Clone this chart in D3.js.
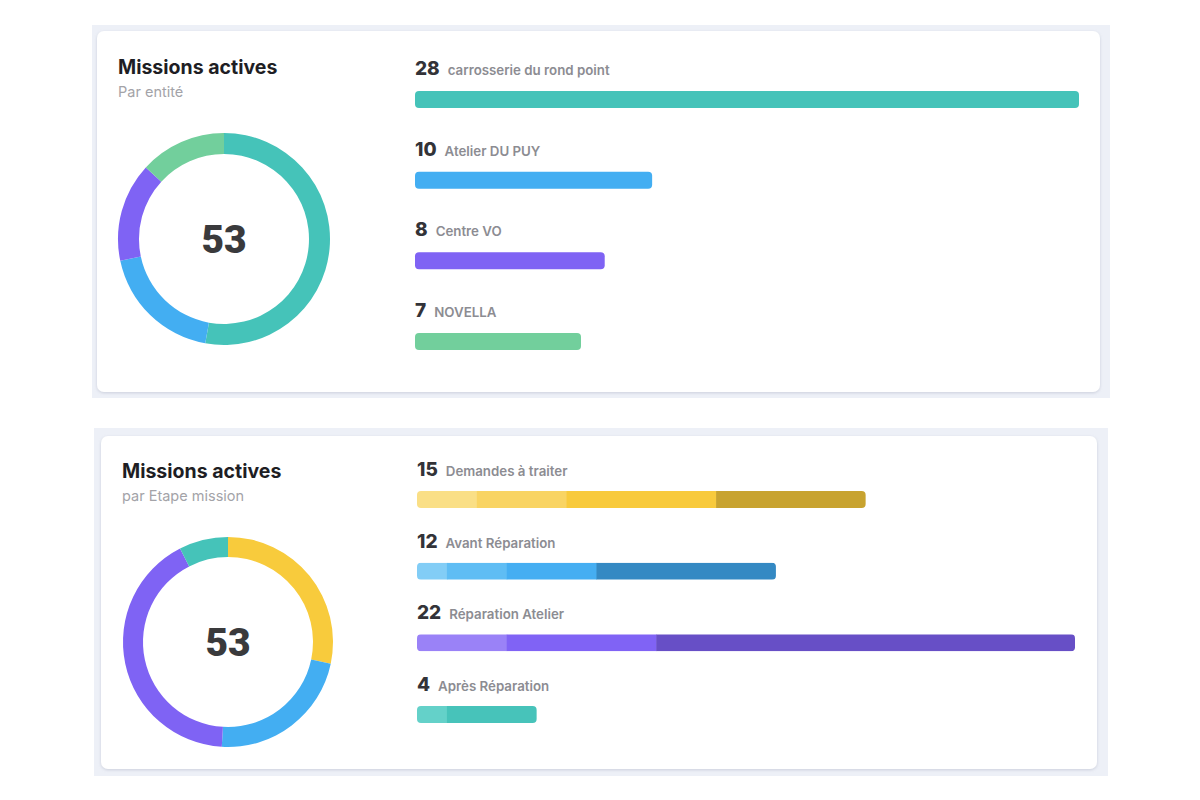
<!DOCTYPE html>
<html>
<head>
<meta charset="utf-8">
<script src="https://cdn.jsdelivr.net/npm/d3@7"></script>
<style>
  body { margin: 0; background: #fff; }
  svg { display: block; }
  .title { font-family: Inter, "Noto Sans", sans-serif; font-weight: 700; fill: #1e1e24; }
  .sub { font-family: Inter, "Noto Sans", sans-serif; fill: #a3a3a8; }
  .num { font-family: Inter, "Noto Sans", sans-serif; font-weight: 800; fill: #333338; }
  .lbl { font-family: Inter, "Noto Sans", sans-serif; font-weight: 600; fill: #8c8c92; }
  .total { font-family: Roboto, "Liberation Sans", sans-serif; font-weight: 900; fill: #3a3a3c; }
</style>
</head>
<body>
<div id="chart"></div>
<script>
// Missions actives par entité
const entityNames = ["carrosserie du rond point", "Atelier DU PUY", "Centre VO", "NOVELLA"];
const entityValues = [28, 10, 8, 7];

// Missions actives par étape mission (sous-parts empilées)
const stageNames = ["Demandes à traiter", "Avant Réparation", "Réparation Atelier", "Après Réparation"];
const stageParts = [
  [2, 3, 5, 5],
  [1, 2, 3, 6],
  [3, 5, 14],
  [1, 3]
];
const stageTotals = stageParts.map(p => d3.sum(p));

// colours
const entityColors = ["#45c3b9", "#43aef2", "#7f63f4", "#72cf9c"];
const stageColors = ["#f8cb3c", "#43aef2", "#7f63f4", "#45c3b9"];
const stageShades = [
  ["#fadf86", "#f9d463", "#f8ca3c", "#c8a32f"],
  ["#82cdf6", "#5fbdf4", "#45aef2", "#3489c3"],
  ["#9a82f7", "#8063f5", "#674fc6"],
  ["#64d1c9", "#47c3ba"]
];

const width = 1200;
const height = 800;

const svg = d3.select("#chart").append("svg")
    .attr("width", width)
    .attr("height", height)
    .attr("viewBox", [0, 0, width, height]);

const defs = svg.append("defs");
const shadow = defs.append("filter").attr("id", "shadow")
    .attr("x", "-5%").attr("y", "-5%").attr("width", "110%").attr("height", "115%");
shadow.append("feDropShadow")
    .attr("dx", 0).attr("dy", 1).attr("stdDeviation", 1.5)
    .attr("flood-color", "#8a90a8").attr("flood-opacity", 0.35);

// one card = grey frame + white rounded panel
function card(o) {
  svg.append("rect")
      .attr("x", o.fx).attr("y", o.fy).attr("width", o.fw).attr("height", o.fh)
      .attr("fill", "#edf0f7");
  svg.append("rect")
      .attr("x", o.cx).attr("y", o.cy).attr("width", o.cw).attr("height", o.ch)
      .attr("rx", 7).attr("fill", "#fff").attr("filter", "url(#shadow)");
  svg.append("text").attr("class", "title")
      .attr("x", o.tx).attr("y", o.ty).attr("font-size", 19.5).text("Missions actives");
  svg.append("text").attr("class", "sub")
      .attr("x", o.tx).attr("y", o.ty + 23).attr("font-size", 14.5).text(o.subtitle);
}

function donut(values, colors, cx, cy, r0, r1) {
  const pie = d3.pie().sort(null).value(d => d);
  const arc = d3.arc().innerRadius(r0).outerRadius(r1);
  const g = svg.append("g").attr("transform", `translate(${cx},${cy})`);
  g.selectAll("path")
    .data(pie(values))
    .join("path")
      .attr("d", arc)
      .attr("fill", (d, i) => colors[i]);
  g.append("text").attr("class", "total")
      .attr("text-anchor", "middle").attr("dy", "0.36em")
      .attr("font-size", 39)
      .text(d3.sum(values));
}

// ---------- card 1 ----------
card({fx: 92, fy: 25, fw: 1018, fh: 373, cx: 97, cy: 31, cw: 1003, ch: 361,
      tx: 118, ty: 74, subtitle: "Par entité"});
donut(entityValues, entityColors, 224, 239, 85, 106);

const x1 = d3.scaleLinear()
    .domain([0, d3.max(entityValues)])
    .range([415, 1079]);
const y1 = d3.scalePoint()
    .domain(entityNames)
    .range([91, 333]);

const rows1 = svg.append("g").selectAll("g")
  .data(entityNames)
  .join("g");

rows1.append("rect")
    .attr("x", x1(0))
    .attr("y", d => y1(d))
    .attr("width", (d, i) => x1(entityValues[i]) - x1(0))
    .attr("height", 17)
    .attr("rx", 4)
    .attr("fill", (d, i) => entityColors[i]);

rows1.each(function(d, i) {
  const t = d3.select(this).append("text")
      .attr("x", x1(0)).attr("y", y1(d) - 16);
  t.append("tspan").attr("class", "num").attr("font-size", 19).text(entityValues[i]);
  t.append("tspan").attr("class", "lbl").attr("font-size", 13.3).attr("dx", 8).text(d);
});

// ---------- card 2 ----------
card({fx: 94, fy: 428, fw: 1014, fh: 348, cx: 101, cy: 436, cw: 996, ch: 333,
      tx: 122, ty: 478, subtitle: "par Etape mission"});
donut(stageTotals, stageColors, 228, 642, 85, 105);

const x2 = d3.scaleLinear()
    .domain([0, d3.max(stageTotals)])
    .range([417, 1075]);
const y2 = d3.scalePoint()
    .domain(stageNames)
    .range([491, 706]);

stageNames.forEach((name, i) => {
  const g = svg.append("g");
  const clipId = "clip" + i;
  defs.append("clipPath").attr("id", clipId)
    .append("rect")
      .attr("x", x2(0)).attr("y", y2(name))
      .attr("width", x2(stageTotals[i]) - x2(0)).attr("height", 17)
      .attr("rx", 4);

  const starts = d3.cumsum([0, ...stageParts[i]]);
  g.append("g").attr("clip-path", `url(#${clipId})`)
    .selectAll("rect")
    .data(stageParts[i])
    .join("rect")
      .attr("x", (d, j) => x2(starts[j]))
      .attr("y", y2(name))
      .attr("width", (d, j) => x2(starts[j] + d) - x2(starts[j]) + 0.5)
      .attr("height", 17)
      .attr("fill", (d, j) => stageShades[i][j]);

  const t = g.append("text").attr("x", x2(0)).attr("y", y2(name) - 15);
  t.append("tspan").attr("class", "num").attr("font-size", 19).text(stageTotals[i]);
  t.append("tspan").attr("class", "lbl").attr("font-size", 13.3).attr("dx", 8).text(name);
});
</script>
</body>
</html>
